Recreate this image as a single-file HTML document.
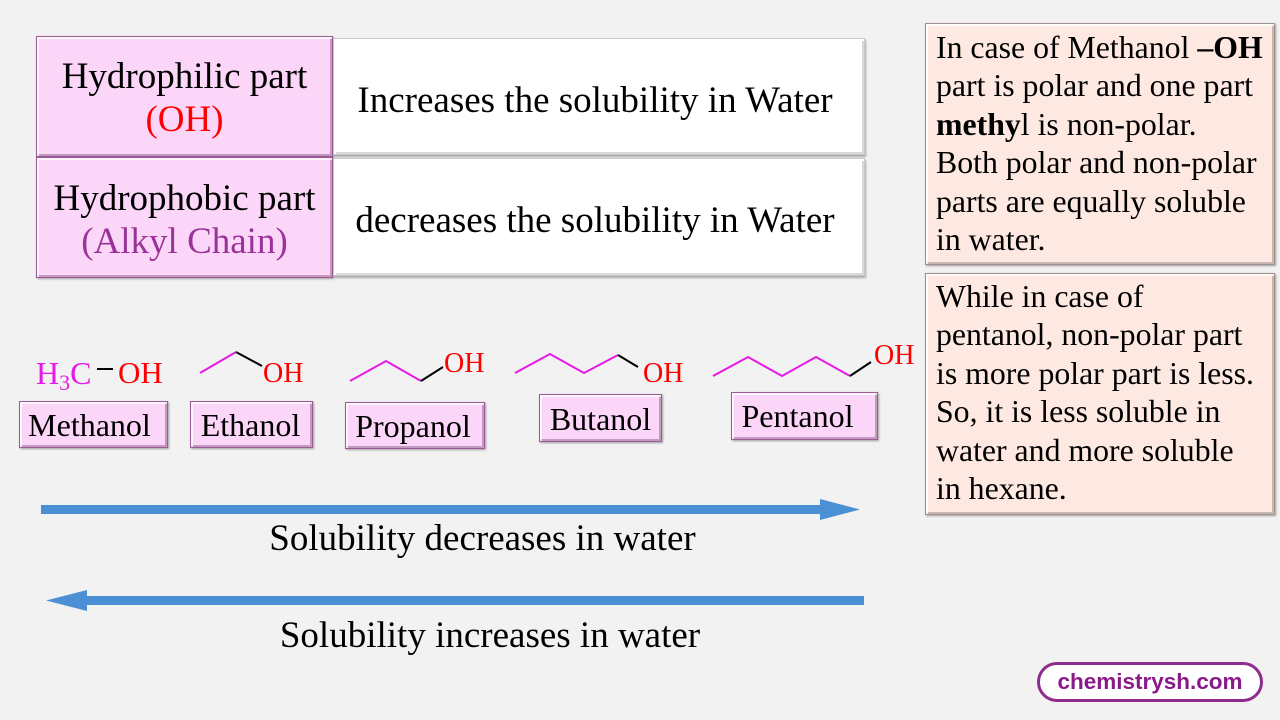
<!DOCTYPE html>
<html><head><meta charset="utf-8">
<style>
*{margin:0;padding:0;box-sizing:border-box}
body{width:1280px;height:720px;background:#f2f2f2;position:relative;overflow:hidden;font-family:"Liberation Serif",serif;color:#000}
.a{position:absolute}
.pink{background:#fcd6f8;border:1px solid #9b5b96;box-shadow:inset 2px 2px 0 rgba(255,255,255,.75),inset -2px -2px 0 rgba(90,40,90,.35),1px 1px 2px rgba(0,0,0,.35)}
.white{background:#fff;border:1px solid #c8c8c8;box-shadow:inset 2px 2px 0 rgba(255,255,255,1),inset -2px -2px 0 rgba(0,0,0,.15),1px 2px 2px rgba(0,0,0,.3)}
.peach{background:#fde9e1;border:1px solid #a0928a;box-shadow:inset 2px 2px 0 rgba(255,255,255,.8),inset -2px -2px 0 rgba(0,0,0,.22),1px 1px 2px rgba(0,0,0,.35)}
.t37{font-size:37px;line-height:43px;white-space:nowrap;text-align:center}
.rt{font-size:31.8px;line-height:38.4px;white-space:nowrap;left:936px}
.lbl{font-size:32px;line-height:40px;white-space:nowrap;text-align:center}
.red{color:#f00}
.mag{color:#e619e6}
</style></head><body>

<!-- table -->
<div class="a pink" style="left:36px;top:36px;width:297px;height:121px"></div>
<div class="a pink" style="left:36px;top:157px;width:297px;height:121px"></div>
<div class="a white" style="left:333px;top:38px;width:532px;height:117px"></div>
<div class="a white" style="left:333px;top:158px;width:532px;height:118px"></div>

<div class="a t37" style="left:36px;width:297px;top:55px">Hydrophilic part<br><span class="red">(OH)</span></div>
<div class="a t37" style="left:36px;width:297px;top:177px">Hydrophobic part<br><span style="color:#993399">(Alkyl Chain)</span></div>
<div class="a t37" style="left:329px;width:532px;top:79px">Increases the solubility in Water</div>
<div class="a t37" style="left:329px;width:532px;top:199px">decreases the solubility in Water</div>

<!-- right boxes -->
<div class="a peach" style="left:925px;top:23px;width:350px;height:242px"></div>
<div class="a peach" style="left:925px;top:273px;width:350px;height:242px"></div>
<div class="a rt" style="top:29px">In case of Methanol <b>–OH</b><br>part is polar and one part<br><b>methy</b>l is non-polar.<br>Both polar and non-polar<br>parts are equally soluble<br>in water.</div>
<div class="a rt" style="top:278px">While in case of<br>pentanol, non-polar part<br>is more polar part is less.<br>So, it is less soluble in<br>water and more soluble<br>in hexane.</div>

<!-- molecules -->
<svg class="a" style="left:0;top:0" width="1280" height="720">
  <line x1="97" y1="369" x2="113" y2="369" stroke="#000" stroke-width="2"/>
  <polyline points="200,373 236,352" fill="none" stroke="#e619e6" stroke-width="2"/>
  <polyline points="236,352 262,366" fill="none" stroke="#000" stroke-width="2"/>
  <polyline points="350,381 386,361 421,381" fill="none" stroke="#e619e6" stroke-width="2"/>
  <polyline points="421,381 443,367" fill="none" stroke="#000" stroke-width="2"/>
  <polyline points="515,373 550,354 584,373 618,355" fill="none" stroke="#e619e6" stroke-width="2"/>
  <polyline points="618,355 638,367" fill="none" stroke="#000" stroke-width="2"/>
  <polyline points="713,376 748,357 782,376 816,357 850,376" fill="none" stroke="#e619e6" stroke-width="2"/>
  <polyline points="850,376 871,362" fill="none" stroke="#000" stroke-width="2"/>
  <!-- arrows -->
  <rect x="41" y="505" width="782" height="9" fill="#4b8fd5"/>
  <polygon points="820,499 860,509.5 820,520" fill="#4b8fd5"/>
  <rect x="84" y="596" width="780" height="9" fill="#4b8fd5"/>
  <polygon points="87,590 46,600.5 87,611" fill="#4b8fd5"/>
</svg>
<div class="a" style="left:36px;top:353px;font-size:32px;line-height:40px;white-space:nowrap"><span class="mag">H<sub style="font-size:22px;vertical-align:-6px;line-height:0">3</sub>C</span></div>
<div class="a red" style="left:118px;top:353px;font-size:31px;line-height:40px">OH</div>
<div class="a red" style="left:263px;top:356px;font-size:28px;line-height:36px">OH</div>
<div class="a red" style="left:444px;top:346px;font-size:28px;line-height:36px">OH</div>
<div class="a red" style="left:643px;top:356px;font-size:28px;line-height:36px">OH</div>
<div class="a red" style="left:874px;top:338px;font-size:28px;line-height:36px">OH</div>

<!-- labels -->
<div class="a pink" style="left:19px;top:401px;width:149px;height:47px"></div>
<div class="a lbl" style="left:15px;width:149px;top:405px">Methanol</div>
<div class="a pink" style="left:190px;top:401px;width:123px;height:47px"></div>
<div class="a lbl" style="left:189px;width:123px;top:405px">Ethanol</div>
<div class="a pink" style="left:345px;top:402px;width:140px;height:47px"></div>
<div class="a lbl" style="left:343px;width:140px;top:406px">Propanol</div>
<div class="a pink" style="left:539px;top:394px;width:123px;height:48px"></div>
<div class="a lbl" style="left:539px;width:123px;top:399px">Butanol</div>
<div class="a pink" style="left:731px;top:392px;width:147px;height:48px"></div>
<div class="a lbl" style="left:724px;width:147px;top:396px">Pentanol</div>

<!-- arrow labels -->
<div class="a" style="left:0;width:965px;top:517px;font-size:37px;line-height:44px;text-align:center;white-space:nowrap">Solubility decreases in water</div>
<div class="a" style="left:0;width:980px;top:614px;font-size:37px;line-height:44px;text-align:center;white-space:nowrap">Solubility increases in water</div>

<!-- logo -->
<div class="a" style="left:1037px;top:662px;width:226px;height:40px;border:3px solid #8e2b8e;border-radius:20px;background:#fff"></div>
<div class="a" style="left:1037px;top:662px;width:226px;height:40px;line-height:40px;text-align:center;font-family:'Liberation Sans',sans-serif;font-weight:bold;font-size:22.5px;color:#8b1a89">chemistrysh.com</div>

</body></html>
